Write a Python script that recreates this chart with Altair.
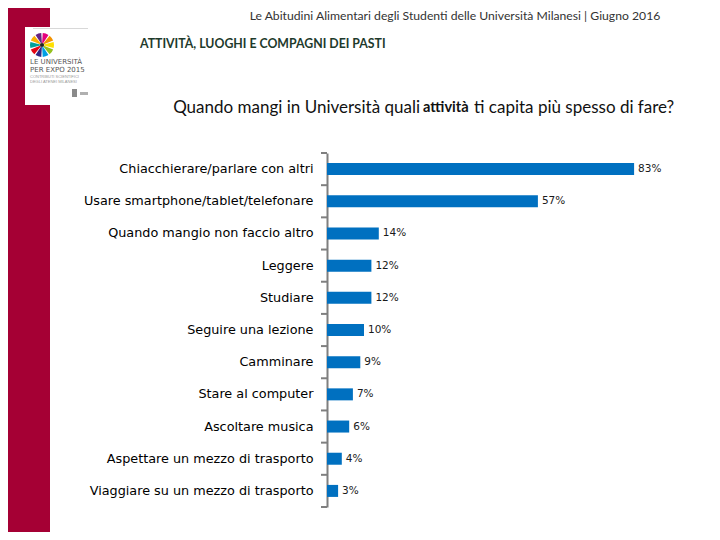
import math
import altair as alt
import pandas as pd

# ---------------- data ----------------
categories = [
    "Chiacchierare/parlare con altri",
    "Usare smartphone/tablet/telefonare",
    "Quando mangio non faccio altro",
    "Leggere",
    "Studiare",
    "Seguire una lezione",
    "Camminare",
    "Stare al computer",
    "Ascoltare musica",
    "Aspettare un mezzo di trasporto",
    "Viaggiare su un mezzo di trasporto",
]
values = [83, 57, 14, 12, 12, 10, 9, 7, 6, 4, 3]
value_labels = ["83%", "57%", "14%", "12%", "12%", "10%", "9%", "7%", "6%", "4%", "3%"]

header_text = "Le Abitudini Alimentari degli Studenti delle Università Milanesi |  Giugno 2016"
section_text = "ATTIVITÀ, LUOGHI E COMPAGNI DEI PASTI"
question_parts = ["Quando mangi in Università quali", "attività", "ti capita più spesso di fare?"]
logo_lines = ["LE UNIVERSITÀ", "PER EXPO 2015"]
logo_small = ["CONTRIBUTI SCIENTIFICI", "DEGLI ATENEI MILANESI"]
petal_colors = ["#E4007C", "#F39200", "#FFE000", "#95C11F", "#009FE3",
                "#312783", "#E30613", "#00A19A", "#F9B000", "#662483"]

df = pd.DataFrame({"attivita": categories, "pct": values, "label": value_labels})

# plot-area origin on the page is (327, 153); decorations are placed relative to it
OX, OY = 327, 153
PLOT_H = 354
STEP = PLOT_H / len(categories)
AXIS_GRAY = "#7F7F7F"


def px(x):
    return x - OX


def py(y):
    return y - OY


def one():
    return pd.DataFrame({"k": [0]})


def rect(x0, x1, y0, y1, color, **kw):
    return alt.Chart(one()).mark_rect(color=color, **kw).encode(
        x=alt.value(px(x0)), x2=alt.value(px(x1)),
        y=alt.value(py(y0)), y2=alt.value(py(y1)))


def label(text, x, y, **kw):
    return alt.Chart(pd.DataFrame({"t": [text]})).mark_text(**kw).encode(
        x=alt.value(px(x)), y=alt.value(py(y)), text="t:N")


# ---------------- decorations ----------------
crimson = rect(0, 50, 0, 540, "#A50034")
logo_box = rect(25, 90, 27, 105, "#FFFFFF")
logo_line = rect(33, 88, 28, 29, "#D8D8D8")

n = len(petal_colors)
step = 2 * math.pi / n
petals = pd.DataFrame({
    "a0": [i * step + 0.06 for i in range(n)],
    "a1": [(i + 1) * step - 0.06 for i in range(n)],
    "c": petal_colors,
})
flower = alt.Chart(petals).mark_arc(innerRadius=2, outerRadius=12).encode(
    x=alt.value(px(42)), y=alt.value(py(45)),
    theta=alt.Theta("a0:Q", scale=None), theta2="a1",
    color=alt.Color("c:N", scale=None),
)
flower_center = alt.Chart(one()).mark_point(filled=True, size=18, color="#222222", opacity=1).encode(
    x=alt.value(px(42)), y=alt.value(py(45)))

logo_t1 = label(logo_lines[0], 30, 62, align="left", baseline="middle",
                font="DejaVu Sans", fontSize=7, color="#555555")
logo_t2 = label(logo_lines[1], 30, 69.5, align="left", baseline="middle",
                font="DejaVu Sans", fontSize=7, color="#555555")
logo_t3 = label(logo_small[0], 30, 76.5, align="left", baseline="middle",
                font="Liberation Sans", fontSize=4, color="#999999")
logo_t4 = label(logo_small[1], 30, 81.5, align="left", baseline="middle",
                font="Liberation Sans", fontSize=4, color="#999999")
logo_icon = rect(72, 77, 89, 97, "#8A8A8A")
logo_icon2 = rect(80, 88, 92, 95, "#B0B0B0")

header = label(header_text, 455, 16, align="center", baseline="middle",
               font="Lato", fontSize=12.2, color="#333333")
section = label(section_text, 140, 44, align="left", baseline="middle",
                font="Lato", fontSize=12.3, fontWeight="bold", color="#1E3A2C")
q1 = label(question_parts[0], 420, 108, align="right", baseline="middle",
           font="Lato", fontSize=17, color="#111111")
q2 = label(question_parts[1], 423, 108, align="left", baseline="middle",
           font="Lato", fontSize=14.6, fontWeight="bold", color="#111111")
q3 = label(question_parts[2], 474, 108, align="left", baseline="middle",
           font="Lato", fontSize=17, color="#111111")

# ---------------- bars ----------------
y_axis = alt.Axis(
    ticks=False,
    domainColor=AXIS_GRAY, domainWidth=2,
    labelFont="DejaVu Sans", labelFontSize=12.8, labelColor="#000000",
    labelPadding=14, labelLimit=400,
)
y_enc = alt.Y("attivita:N", sort=categories, title=None,
              scale=alt.Scale(paddingInner=0.627, paddingOuter=0.3135),
              axis=y_axis)

bars = alt.Chart(df).mark_bar(color="#0070C0").encode(
    y=y_enc,
    x=alt.X("pct:Q", scale=alt.Scale(domain=[0, 100]), axis=None),
)
texts = bars.mark_text(align="left", baseline="middle", dx=4,
                       font="DejaVu Sans", fontSize=10.5, color="#1A1A1A").encode(text="label:N")

# tick marks on the category boundaries (half a step above each band centre, plus one at the end)
ticks_top = alt.Chart(df).mark_rule(color=AXIS_GRAY, strokeWidth=2, yOffset=-STEP / 2).encode(
    y=y_enc, x=alt.value(-6), x2=alt.value(0))
ticks_end = alt.Chart(df).transform_filter(
    alt.datum.attivita == categories[-1]
).mark_rule(color=AXIS_GRAY, strokeWidth=2, yOffset=STEP / 2).encode(
    y=y_enc, x=alt.value(-6), x2=alt.value(0))

chart = alt.layer(
    crimson, logo_box, logo_line, flower, flower_center,
    logo_t1, logo_t2, logo_t3, logo_t4, logo_icon, logo_icon2,
    header, section, q1, q2, q3,
    bars, texts, ticks_top, ticks_end,
).properties(
    width=370, height=PLOT_H,
    autosize=alt.AutoSizeParams(type="none"),
    padding={"left": 319, "top": 145, "right": 15, "bottom": 25},
    background="#FFFFFF",
).configure_view(stroke=None)

chart.save("out.html", embed_options={"renderer": "svg", "actions": False})
